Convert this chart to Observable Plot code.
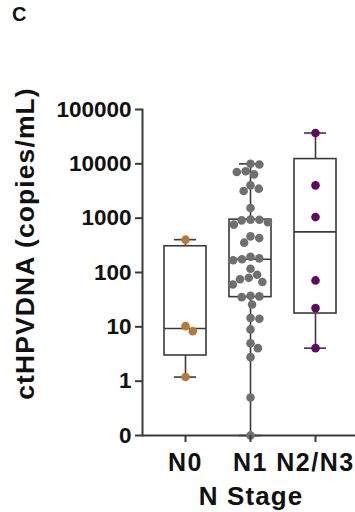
<!DOCTYPE html>
<html><head><meta charset="utf-8">
<script src="https://cdn.jsdelivr.net/npm/d3@7"></script>
<script src="https://cdn.jsdelivr.net/npm/@observablehq/plot@0.6"></script>
<style>
body{margin:0;background:#fff;font-family:"Liberation Sans",Arial,sans-serif;}
#wrap{position:relative;width:355px;height:512px;}
#panel{position:absolute;left:12px;top:3px;font-weight:bold;font-size:20px;color:#111;}
#chart{position:absolute;left:0;top:0;}
g[aria-label="x-axis tick label"] text{letter-spacing:1.5px;}
.lbl text{letter-spacing:1.1px;}
</style></head><body><div id="wrap"><div id="chart"></div><div id="panel">C</div></div>
<script>
const categories = ["N0", "N1", "N2/N3"];
const n0Values = [402, 10.3, 8.3, 1.19];
const n1Values = [10000, 9700, 7280, 7080, 6400, 4020, 3490, 3160, 1535, 940, 935, 910, 840, 760,
  462, 430, 354, 195, 182, 175, 168, 117, 91, 80, 75, 67, 60, 37.4, 36.3, 35.2, 25.8,
  14.5, 14.1, 8.96, 5.0, 4.05, 2.77, 0.5, 0];
const n23Values = [36900, 4020, 1047, 71.5, 22.1, 4.05];
const yTicks = [0, 1, 10, 100, 1000, 10000, 100000];
const colors = ["#b7793a", "#6f6f6f", "#5f0a5f"];
const yLabel = "ctHPVDNA (copies/mL)";
const xLabel = "N Stage";

const groups = [n0Values, n1Values, n23Values];
const disp = v => v === 0 ? 0.1 : v;   // zero drawn one decade below 1
// GraphPad-style (n+1)p quartiles
function quant(sorted, p) {
  const n = sorted.length, h = (n + 1) * p, lo = Math.floor(h), f = h - lo;
  if (lo < 1) return sorted[0];
  if (lo >= n) return sorted[n - 1];
  return sorted[lo - 1] + f * (sorted[lo] - sorted[lo - 1]);
}
const stats = groups.map((vals, i) => {
  const s = vals.slice().sort((a, b) => a - b);
  return {i, min: s[0], q1: quant(s, 0.25), med: quant(s, 0.5), q3: quant(s, 0.75), max: s[s.length - 1]};
});

// layout
const W = 355, H = 512, mL = 142, mR = 0, mT = 109, mB = 77;
const step = 65;                 // px between category centres
const firstCenter = 43;          // px from frame left to first category
const xDomain = [-firstCenter / step, (W - mL - mR - firstCenter) / step];
const boxHalf = 21 / step, capHalf = 11 / step;
const R = 4.3, PAD = 0.3;
const yPix = d3.scaleLog().domain([0.1, 100000]).range([H - mB, mT]);

// simple greedy beeswarm: offset (px) nearest the centre that avoids overlap
function swarm(vals) {
  const placed = [], d = 2 * R + PAD;
  return vals.map(v => {
    const y = yPix(disp(v));
    const cands = [0];
    for (const p of placed) {
      const dy = Math.abs(p.y - y);
      if (dy < d) { const s = Math.sqrt(d * d - dy * dy); cands.push(p.x - s, p.x + s); }
    }
    cands.sort((a, b) => Math.abs(a) - Math.abs(b) || b - a);
    let x = 0;
    for (const c of cands) {
      if (placed.every(p => (p.x - c) ** 2 + (p.y - y) ** 2 >= d * d - 1e-6)) { x = c; break; }
    }
    placed.push({x, y});
    return x;
  });
}
const points = groups.flatMap((vals, i) => {
  const offs = swarm(vals);
  return vals.map((v, k) => ({i, v, off: offs[k]}));
});

const line = "#3a3a3a";
const chart = Plot.plot({
  width: W, height: H,
  marginLeft: mL, marginRight: mR, marginTop: mT, marginBottom: mB,
  style: {fontFamily: "'Liberation Sans', Arial, sans-serif", background: "white"},
  x: {domain: xDomain, label: null, axis: null},
  y: {type: "log", domain: [0.1, 100000], label: null, axis: null},
  color: {domain: [0, 1, 2], range: colors},
  marks: [
    Plot.ruleX(stats, {x: "i", y1: d => disp(d.min), y2: d => disp(d.q1), stroke: line, strokeWidth: 1.6}),
    Plot.ruleX(stats, {x: "i", y1: d => disp(d.q3), y2: d => disp(d.max), stroke: line, strokeWidth: 1.6}),
    Plot.ruleY(stats, {y: d => disp(d.max), x1: d => d.i - capHalf, x2: d => d.i + capHalf, stroke: line, strokeWidth: 1.6}),
    Plot.ruleY(stats, {y: d => disp(d.min), x1: d => d.i - capHalf, x2: d => d.i + capHalf, stroke: line, strokeWidth: 1.6}),
    Plot.rect(stats, {x1: d => d.i - boxHalf, x2: d => d.i + boxHalf, y1: d => disp(d.q1), y2: d => disp(d.q3), fill: "white", stroke: line, strokeWidth: 1.6}),
    Plot.ruleY(stats, {y: d => disp(d.med), x1: d => d.i - boxHalf, x2: d => d.i + boxHalf, stroke: line, strokeWidth: 1.6}),
    Plot.ruleY([0.1], {stroke: line, strokeWidth: 2}),
    Plot.frame({anchor: "left", stroke: line, strokeWidth: 2}),
    Plot.dot(points, {x: d => d.i + d.off / step, y: d => disp(d.v), r: R, fill: d => d.i, stroke: "none"}),
    Plot.axisY({ticks: yTicks.map(disp), tickFormat: d => d === 0.1 ? "0" : String(d), tickSize: 7, tickPadding: 4,
      fontSize: 22.5, fontWeight: "bold", stroke: line, strokeWidth: 2, fill: "#111", label: null}),
    Plot.axisX({ticks: [0, 1, 2], tickFormat: i => categories[i], tickSize: 7, tickPadding: 11, fontSize: 25,
      fontWeight: "bold", stroke: line, strokeWidth: 2, fill: "#111", label: null}),
    Plot.text([yLabel], {frameAnchor: "left", textAnchor: "middle", rotate: -90, dx: -117, dy: -29, fontSize: 26.5,
      fontWeight: "bold", fill: "#111", lineAnchor: "middle", className: "lbl"}),
    Plot.text([xLabel], {frameAnchor: "bottom", textAnchor: "middle", dx: 2, dy: 51.5, fontSize: 26, fontWeight: "bold",
      fill: "#111", lineAnchor: "top", className: "lbl"})
  ]
});
document.getElementById("chart").appendChild(chart);
</script></body></html>
